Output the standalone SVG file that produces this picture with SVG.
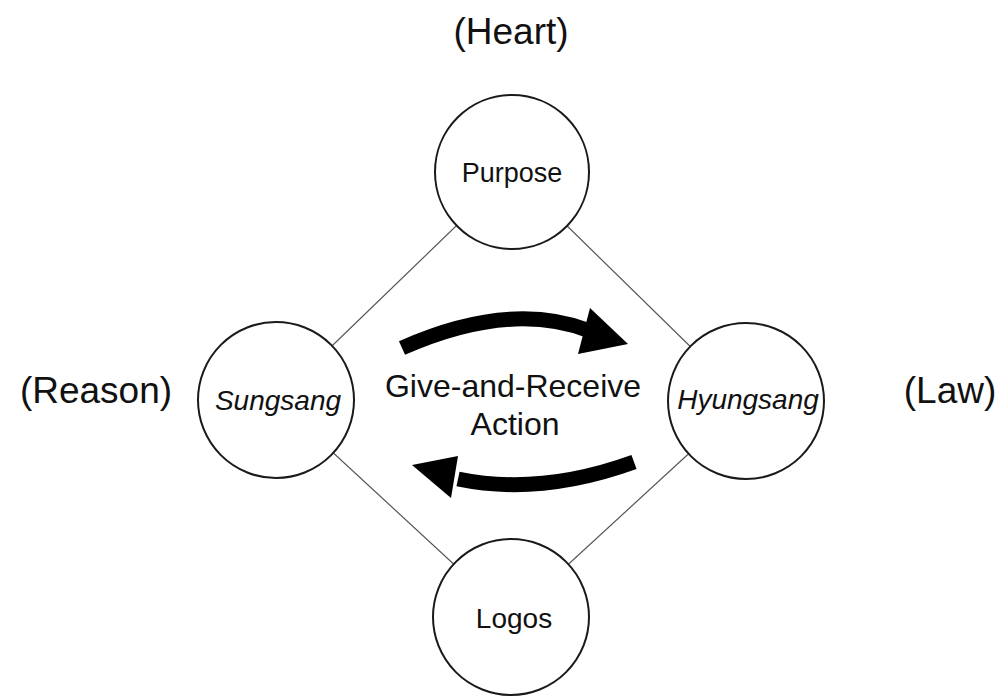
<svg xmlns="http://www.w3.org/2000/svg" width="1006" height="698" viewBox="0 0 1006 698">
<style>
.node{fill:#fff;stroke:#1a1a1a;stroke-width:2}
.lbl{font-family:"Liberation Sans",Arial,sans-serif;fill:#111;text-anchor:middle}
.conn{stroke:#555;stroke-width:1.2;fill:none}
.band{stroke:#000;stroke-width:15;fill:none}
</style>
<rect width="1006" height="698" fill="#fff"/>
<g id="connectors">
<line class="conn" x1="512" y1="172" x2="276" y2="400"/>
<line class="conn" x1="512" y1="172" x2="746" y2="401"/>
<line class="conn" x1="276" y1="400" x2="511" y2="617"/>
<line class="conn" x1="746" y1="401" x2="511" y2="617"/>
<g id="arrow-right">
<path class="band" d="M402 348 Q510 300 590 331"/>
<polygon points="590,308 628,344 578,354" fill="#000"/>
</g>
<g id="arrow-left">
<path class="band" d="M634 462 Q540 496 458 479"/>
<polygon points="458,456 412,465 451,498" fill="#000"/>
</g>
</g>
<g id="purpose"><circle class="node" cx="512" cy="172" r="77"/><text class="lbl" x="512" y="182" font-size="27">Purpose</text></g>
<g id="sungsang"><circle class="node" cx="276" cy="400" r="78"/><text class="lbl" x="278" y="410" font-size="28" font-style="italic">Sungsang</text></g>
<g id="hyungsang"><circle class="node" cx="746" cy="401" r="78"/><text class="lbl" x="748" y="409" font-size="28" font-style="italic">Hyungsang</text></g>
<g id="logos"><circle class="node" cx="511" cy="617" r="78"/><text class="lbl" x="514" y="628" font-size="28">Logos</text></g>
<g id="center-label"><text class="lbl" x="513" y="397" font-size="32">Give-and-Receive</text><text class="lbl" x="515" y="435" font-size="32">Action</text></g>
<text class="lbl" x="511" y="44" font-size="37">(Heart)</text>
<text class="lbl" x="96" y="403" font-size="37">(Reason)</text>
<text class="lbl" x="950" y="403" font-size="37">(Law)</text>
</svg>
